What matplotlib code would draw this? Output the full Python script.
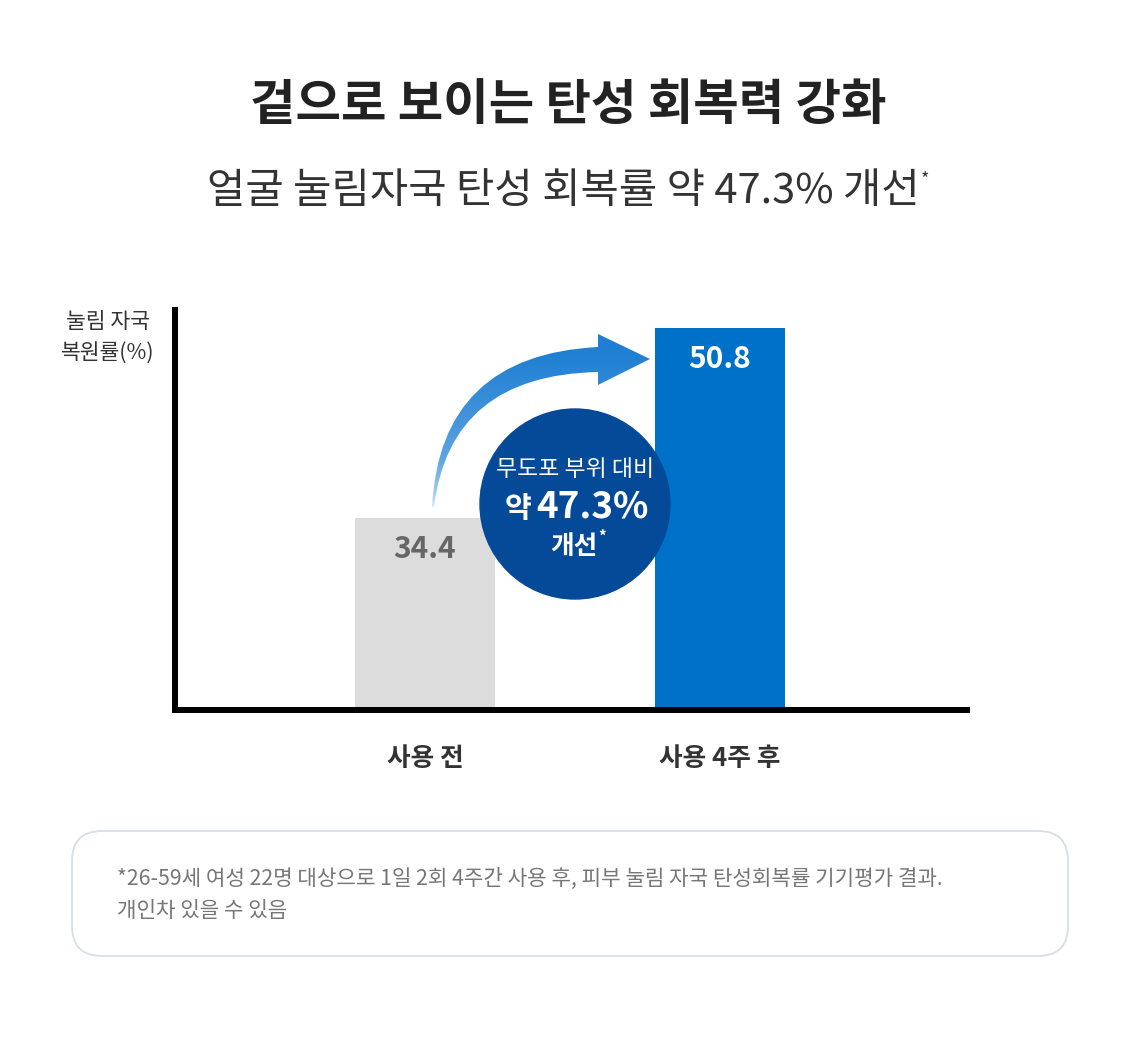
import numpy as np
import matplotlib
matplotlib.use("Agg")
import matplotlib.pyplot as plt
from matplotlib.path import Path
from matplotlib.patches import PathPatch, Circle, FancyBboxPatch
from matplotlib.colors import LinearSegmentedColormap

plt.rcParams['font.family'] = ['Noto Sans CJK KR', 'DejaVu Sans']

# data
categories = ['사용 전', '사용 4주 후']
values = [34.4, 50.8]
bar_colors = ['#dcdcdc', '#0071c8']
label_colors = ['#666666', '#ffffff']
bar_widths = [0.475, 0.44]

title = '겉으로 보이는 탄성 회복력 강화'
subtitle = '얼굴 눌림자국 탄성 회복률 약 47.3% 개선'
ylabel = '눌림 자국\n복원률(%)'
badge_top = '무도포 부위 대비'
badge_pct = '47.3%'
note_lines = ['*26-59세 여성 22명 대상으로 1일 2회 4주간 사용 후, 피부 눌림 자국 탄성회복률 기기평가 결과.',
              '개인차 있을 수 있음']

W, H = 1140, 1038
fig = plt.figure(figsize=(W / 100, H / 100), dpi=100)
fig.patch.set_facecolor('white')

# main chart axes, placed in pixels
left, right, top, bottom = 174.5, 967, 310, 710
ax = fig.add_axes([left / W, (H - bottom) / H, (right - left) / W, (bottom - top) / H])
x = np.arange(len(categories))
ax.bar(x, values, width=bar_widths, color=bar_colors, zorder=1)
ax.set_ylim(17.74, 52.4)
ax.set_xlim(-0.849, 1.838)
for s in ['top', 'right']:
    ax.spines[s].set_visible(False)
for s in ['left', 'bottom']:
    ax.spines[s].set_linewidth(4.3)
    ax.spines[s].set_color('black')
    ax.spines[s].set_zorder(3)
ax.set_yticks([])
ax.set_xticks(x)
ax.set_xticklabels(categories, fontsize=18.5, fontweight='bold', color='#333333')
ax.tick_params(axis='x', length=0, pad=25)
for xi, v, c in zip(x, values, label_colors):
    ax.annotate(f'{v:.1f}', (xi, v), xytext=(0, -31), textcoords='offset pixels',
                ha='center', va='center', fontsize=21.5, fontweight='bold', color=c)

# decoration overlay in pixel coordinates
deco = fig.add_axes([0, 0, 1, 1], zorder=5)
deco.set_xlim(0, W)
deco.set_ylim(H, 0)
deco.axis('off')

deco.text(568, 106, title, ha='center', va='center', fontsize=35.6, fontweight='bold', color='#222222')
st = deco.text(563, 192, subtitle, ha='center', va='center', fontsize=30, color='#333333')
deco.text(108, 338, ylabel, ha='center', va='center', fontsize=15.5, color='#333333', linespacing=1.6)

# gradient curved arrow
verts = [(432, 507), (440, 355), (598, 347), (598, 334), (650, 359), (598, 385), (598, 372),
         (450, 375), (434, 507), (432, 507)]
codes = [Path.MOVETO, Path.CURVE3, Path.CURVE3, Path.LINETO, Path.LINETO, Path.LINETO, Path.LINETO,
         Path.CURVE3, Path.CURVE3, Path.CLOSEPOLY]
arrow = PathPatch(Path(verts, codes), facecolor='none', edgecolor='none')
deco.add_patch(arrow)
yy = np.linspace(330, 512, 200)
g = np.clip((510 - yy) / (510 - 350), 0, 1) ** 0.6
grad = np.tile(g[:, None], (1, 10))
cmap = LinearSegmentedColormap.from_list('arr', ['#f4f8fd', '#5fa5e1', '#1f7fd2'])
im = deco.imshow(grad, cmap=cmap, extent=(428, 655, 512, 330), origin='upper', aspect='auto', zorder=2)
im.set_clip_path(arrow)
deco.set_xlim(0, W)
deco.set_ylim(H, 0)

# badge circle
deco.add_patch(Circle((575, 504), 95, color='#054a98', zorder=3))
deco.text(575, 470, badge_top, ha='center', va='center', fontsize=16.5, color='white', zorder=4)
deco.text(531, 508, '약', ha='right', va='center', fontsize=21, fontweight='bold', color='white', zorder=4)
deco.text(536, 507, badge_pct, ha='left', va='center', fontsize=26.5, fontweight='bold', color='white', zorder=4)
bt = deco.text(574, 546, '개선', ha='center', va='center', fontsize=18.5, fontweight='bold', color='white', zorder=4)

# superscript asterisks
fig.canvas.draw()
r = fig.canvas.get_renderer()
inv = deco.transData.inverted()
for t, sz, dy in [(st, 13, -13), (bt, 11, -9)]:
    bb = t.get_window_extent(r)
    xr, yc = inv.transform((bb.x1, (bb.y0 + bb.y1) / 2))
    deco.text(xr + 1, yc + dy, '*', ha='left', va='center', fontsize=sz,
              color=t.get_color(), fontweight=t.get_fontweight(), zorder=4)

# footnote box
deco.add_patch(FancyBboxPatch((72, 831), 996, 125, boxstyle='round,pad=0,rounding_size=30',
                              facecolor='white', edgecolor='#d6dee9', linewidth=1.3))
deco.text(117, 879, note_lines[0], ha='left', va='center', fontsize=15.3, color='#777777')
deco.text(117, 911, note_lines[1], ha='left', va='center', fontsize=15.3, color='#777777')

fig.savefig('out.png', dpi=100)
